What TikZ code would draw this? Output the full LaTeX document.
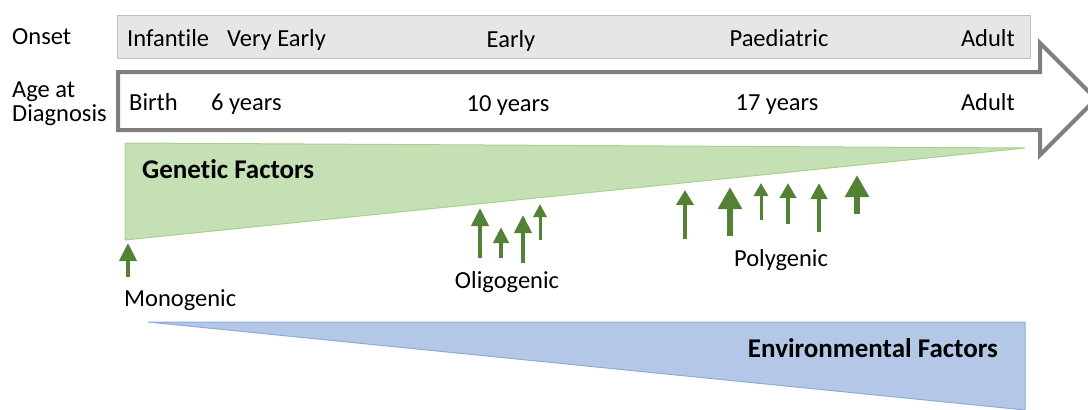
\documentclass[tikz,border=0pt]{standalone}
\usepackage{fontspec}
\setmainfont[Ligatures=NoCommon]{Carlito}
\usetikzlibrary{arrows.meta}
\definecolor{onsetfill}{HTML}{E7E6E6}
\definecolor{onsetline}{HTML}{BFBFBF}
\definecolor{agearrow}{HTML}{7F7F7F}
\definecolor{genfill}{HTML}{C5E0B4}
\definecolor{genline}{HTML}{A9D18E}
\definecolor{envfill}{HTML}{B4C7E7}
\definecolor{envline}{HTML}{8FAADC}
\definecolor{genearrow}{HTML}{548235}
\begin{document}
\begin{tikzpicture}[x=1pt,y=-1pt,
  lbl/.style={inner sep=0pt,font=\fontsize{24.5}{29}\selectfont},
  title/.style={inner sep=0pt,font=\fontsize{27}{32}\selectfont\bfseries},
  genearr/.style args={#1/#2/#3}{draw=genearrow,line width=#1pt,
    -{Triangle[length=#2pt,width=#3pt]}}]
\useasboundingbox (0,0) rectangle (1088,410);

% onset band
\draw[fill=onsetfill,draw=onsetline,line width=1pt] (117,15) rectangle (1030,58);

% age-at-diagnosis arrow outline
\draw[draw=agearrow,line width=4pt,fill=white,line join=miter]
  (118,72) -- (1040,72) -- (1040,43) -- (1096,99) -- (1040,155)
  -- (1040,130) -- (118,130) -- cycle;

% genetic and environmental wedges
\draw[fill=genfill,draw=genline,line width=1pt] (125,143) -- (1025,148) -- (125,240) -- cycle;
\draw[fill=envfill,draw=envline,line width=1pt] (148,322) -- (1025,322) -- (1025,410) -- cycle;

% row headings
\node[lbl,anchor=base west] (onset) at (12,44) {Onset};
\node[lbl,anchor=base west] (age1) at (12,97) {Age at};
\node[lbl,anchor=base west] (age2) at (12,121) {Diagnosis};

% onset categories
\node[lbl,anchor=base west] (infantile) at (127,46) {Infantile};
\node[lbl,anchor=base west] (veryearly) at (227,46) {Very Early};
\node[lbl,anchor=base] (early) at (511,47) {Early};
\node[lbl,anchor=base] (paed) at (779,46) {Paediatric};
\node[lbl,anchor=base east] (adult1) at (1015,46) {Adult};

% ages
\node[lbl,anchor=base west] (birth) at (129,110) {Birth};
\node[lbl,anchor=base west] (six) at (211,110) {6 years};
\node[lbl,anchor=base] (ten) at (508,111) {10 years};
\node[lbl,anchor=base] (seventeen) at (777,110) {17 years};
\node[lbl,anchor=base east] (adult2) at (1015,110) {Adult};

% wedge titles
\node[title,anchor=base west] (genetic) at (142,178) {Genetic Factors};
\node[title,anchor=base east] (env) at (998,357) {Environmental Factors};

% inheritance labels
\node[lbl,anchor=base west] (mono) at (124,306) {Monogenic};
\node[lbl,anchor=base] (oligo) at (507,288) {Oligogenic};
\node[lbl,anchor=base] (poly) at (781,266) {Polygenic};

% variant arrows: x / base y / tip y / shaft / head length / head width
\foreach \n/\x/\yb/\yt/\w/\hl/\hw in {
  m1/128/277/243/4/18/17,
  o1/480/258/208/4/18/17,
  o2/501/258/227/4/16/15,
  o3/523/263/215/4/18/17,
  o4/540/240/204/3/13/13,
  p1/685/239/190/4/15/17,
  p2/730/236/187/6/22/23,
  p3/761/220/183/3/13/14,
  p4/788/224/183/4/15/16,
  p5/819/232/183/4/16/16,
  p6/857/214/175/6/22/23}{
  \coordinate (\n b) at (\x,\yb);
  \coordinate (\n t) at (\x,\yt);
  \draw[genearr=\w/\hl/\hw] (\n b) -- (\n t);
}
\end{tikzpicture}
\end{document}
